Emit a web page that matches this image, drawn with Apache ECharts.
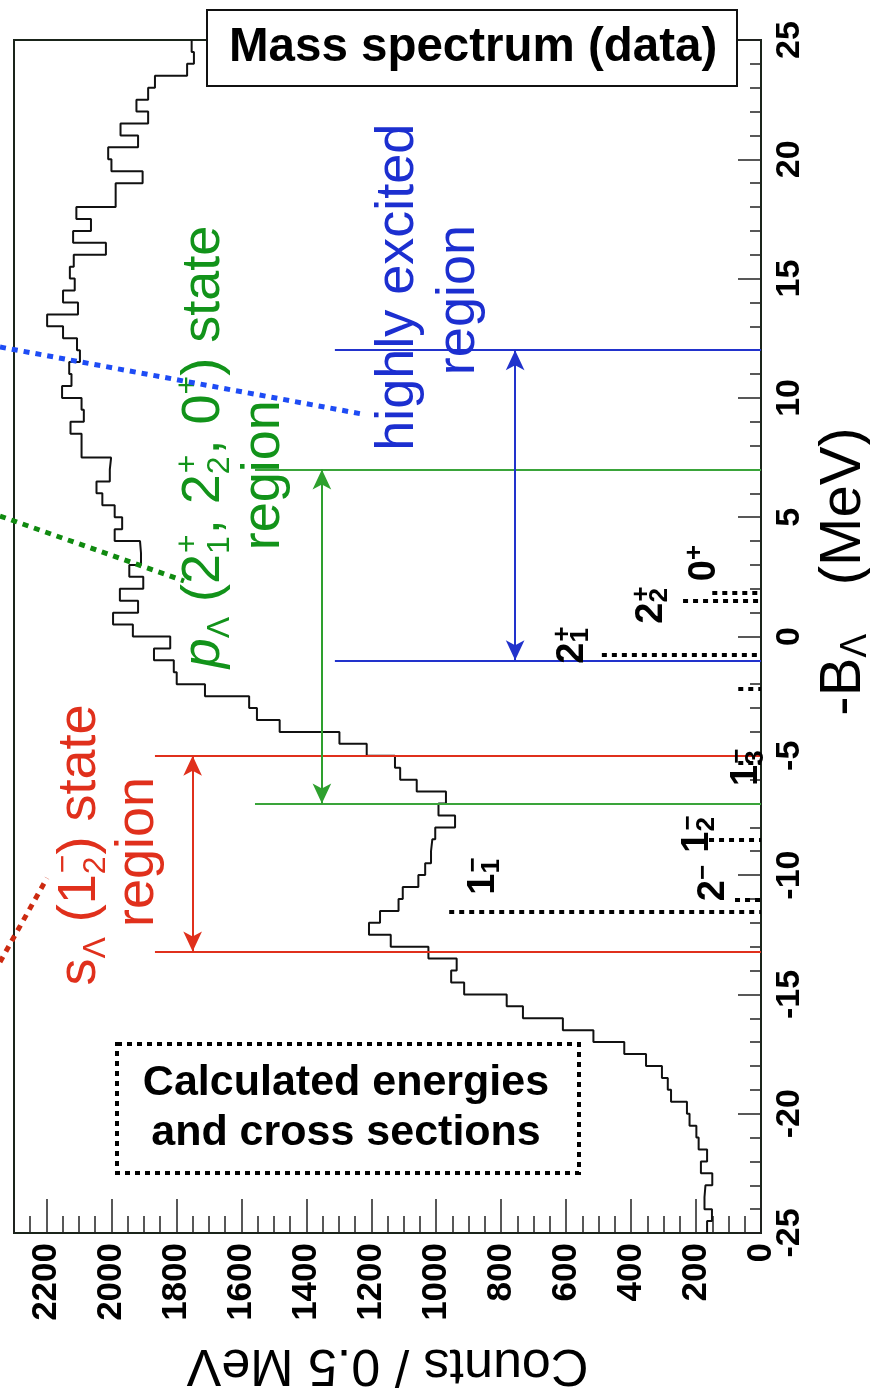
<!DOCTYPE html>
<html>
<head>
<meta charset="utf-8">
<script src="https://cdn.jsdelivr.net/npm/echarts@6/dist/echarts.min.js"></script>
<style>
html, body { margin: 0; padding: 0; background: #fff; }
#chart { width: 870px; height: 1394px; }
</style>
</head>
<body>
<div id="chart"></div>
<script>
// histogram: 0.5 MeV bins from -25 MeV upward
const binStart = -25;
const binWidth = 0.5;
const counts = [
    166, 151, 174, 171, 150, 185, 166, 192, 199, 220,
    228, 277, 287, 305, 354, 421, 516, 610, 733, 783,
    914, 954, 937, 1024, 1140, 1207, 1173, 1116, 1103, 1055,
    1034, 1016, 1012, 1003, 942, 993, 970, 1060, 1111, 1127,
    1214, 1298, 1482, 1552, 1576, 1712, 1799, 1808, 1869, 1819,
    1934, 1995, 1918, 1974, 1902, 1945, 1909, 1912, 1990, 1967,
    1990, 2028, 2046, 2005, 2001, 2092, 2092, 2126, 2085, 2092,
    2152, 2123, 2130, 2097, 2106, 2149, 2198, 2103, 2149, 2113,
    2128, 2116, 2017, 2118, 2063, 2108, 1987, 1987, 1904, 2000,
    2010, 1918, 1972, 1887, 1923, 1887, 1866, 1767, 1746, 1753,
];

// region borders (MeV)
const sRegion = [-13.2, -5];
const pRegion = [-7, 7];
const highRegion = [-1, 12];

// calculated levels: energy (MeV) and drawn strength (counts)
const levelNames = ["1_1-", "2-", "1_2-", "1_3-", "x", "2_1+", "2_2+", "0+"];
const levelEnergy = [-11.55, -11.05, -8.5, -5.3, -2.2, -0.75, 1.5, 1.85];
const levelStrength = [960, 80, 160, 70, 70, 490, 240, 150];

const FONT = "Liberation Sans, Arial, Helvetica, sans-serif";
const RED = "#e0301c";
const GREEN = "#12931a";
const BLUE = "#1c2fd0";

const stepPts = [];
counts.forEach((c, i) => {
    const lo = binStart + i * binWidth;
    stepPts.push([c, lo], [c, lo + binWidth]);
});

function hLine(e, from, to, style) {
    return [{ coord: [from, e], lineStyle: style }, { coord: [to, e] }];
}
function vArrow(c, e1, e2, color) {
    return [
        { coord: [c, e1], lineStyle: { color: color, width: 2, type: "solid" }, itemStyle: { color: color } },
        { coord: [c, e2] },
    ];
}

// rich styles for rotated labels
function tok(size, color, extra) {
    return Object.assign({ fontSize: size, color: color, fontFamily: FONT, align: "left" }, extra);
}
function regionRich(color) {
    return {
        t: tok(54, color, { lineHeight: 64 }),
        it: tok(54, color, { fontStyle: "italic", lineHeight: 64 }),
        sub: tok(32, color, { verticalAlign: "bottom", lineHeight: 30 }),
        subz: tok(32, color, { verticalAlign: "bottom", lineHeight: 30, width: 1 }),
        sup: tok(32, color, { verticalAlign: "top", lineHeight: 30 }),
    };
}
const levelRich = {
    b: tok(38, "#000", { fontWeight: "bold", lineHeight: 44 }),
    subz: tok(26, "#000", { fontWeight: "bold", verticalAlign: "bottom", lineHeight: 22, width: 1 }),
    sup: tok(26, "#000", { fontWeight: "bold", verticalAlign: "top", lineHeight: 22 }),
};

function textItem(c, e, text, rich) {
    return {
        value: [c, e],
        label: {
            show: true,
            position: "inside",
            rotate: 90,
            align: "center",
            verticalAlign: "middle",
            opacity: 1,
            formatter: text,
            rich: rich,
        },
    };
}

const chart = echarts.init(document.getElementById("chart"));

const option = {
    animation: false,
    backgroundColor: "#fff",
    title: {
        text: "Mass spectrum (data)",
        left: 207,
        top: 10,
        padding: [12, 20, 12, 22],
        borderColor: "#111",
        borderWidth: 2,
        backgroundColor: "#fff",
        textStyle: { fontSize: 47.5, fontWeight: "bold", color: "#000", fontFamily: FONT, lineHeight: 52 },
    },
    grid: {
        left: 14,
        right: 109,
        top: 40,
        bottom: 161,
        containLabel: false,
        outerBoundsMode: "none",
        show: true,
        borderColor: "#1a241a",
        borderWidth: 2,
    },
    xAxis: {
        type: "value",
        inverse: true,
        min: 0,
        max: 2300,
        interval: 200,
        position: "bottom",
        axisLine: { show: true, onZero: false, lineStyle: { color: "#1a241a", width: 2 } },
        axisTick: { show: true, inside: true, length: 34, lineStyle: { color: "#222", width: 1.5 } },
        minorTick: { show: true, splitNumber: 4, length: 17, lineStyle: { color: "#222", width: 1.5 } },
        splitLine: { show: false },
        axisLabel: {
            rotate: 90,
            margin: 10,
            fontSize: 35,
            fontWeight: "bold",
            color: "#000",
            fontFamily: FONT,
            showMaxLabel: false,
            formatter: (v) => (v % 200 === 0 ? String(v) : ""),
        },
        name: "Counts / 0.5 MeV",
        nameLocation: "middle",
        nameRotate: 180,
        nameGap: 105,
        nameTextStyle: { fontSize: 52, color: "#000", fontFamily: FONT },
    },
    yAxis: {
        type: "value",
        min: -25,
        max: 25,
        interval: 5,
        position: "right",
        axisLine: { show: true, onZero: false, lineStyle: { color: "#1a241a", width: 2 } },
        axisTick: { show: true, inside: true, length: 23, lineStyle: { color: "#222", width: 1.5 } },
        minorTick: { show: true, splitNumber: 5, length: 11, lineStyle: { color: "#222", width: 1.5 } },
        splitLine: { show: false },
        axisLabel: {
            rotate: 90,
            margin: 12,
            fontSize: 34,
            fontWeight: "bold",
            color: "#000",
            fontFamily: FONT,
        },
        name: "{m|-B}{s|Λ}{m|   (MeV)}",
        nameLocation: "middle",
        nameRotate: 90,
        nameGap: 48,
        nameTextStyle: {
            padding: [0, 0, 0, 130],
            rich: {
                m: tok(58, "#000", { lineHeight: 60 }),
                s: tok(36, "#000", { verticalAlign: "bottom", lineHeight: 36 }),
            },
        },
    },
    series: [
        {
            name: "data",
            type: "line",
            data: stepPts,
            showSymbol: false,
            symbol: "none",
            silent: true,
            lineStyle: { color: "#111", width: 2 },
            z: 3,
        },
        {
            type: "line",
            data: [],
            silent: true,
            markLine: {
                silent: true,
                symbol: ["none", "none"],
                label: { show: false },
                animation: false,
                data: [
                    hLine(sRegion[0], 1866, 0, { color: RED, width: 2, type: "solid" }),
                    hLine(sRegion[1], 1866, 0, { color: RED, width: 2, type: "solid" }),
                    hLine(pRegion[0], 1558, 0, { color: "#3aa43a", width: 2, type: "solid" }),
                    hLine(pRegion[1], 1558, 0, { color: "#3aa43a", width: 2, type: "solid" }),
                    hLine(highRegion[0], 1312, 0, { color: "#2233cc", width: 2, type: "solid" }),
                    hLine(highRegion[1], 1312, 0, { color: "#2233cc", width: 2, type: "solid" }),
                ],
            },
            z: 4,
        },
        {
            type: "line",
            data: [],
            silent: true,
            markLine: {
                silent: true,
                symbol: ["arrow", "arrow"],
                symbolSize: [14, 20],
                label: { show: false },
                animation: false,
                data: [
                    vArrow(1750, sRegion[0], sRegion[1], RED),
                    vArrow(1352, pRegion[0], pRegion[1], "#2ea02e"),
                    vArrow(757, highRegion[0], highRegion[1], "#2233cc"),
                ],
            },
            z: 4,
        },
        {
            // calculated levels
            type: "line",
            data: [],
            silent: true,
            markLine: {
                silent: true,
                symbol: ["none", "none"],
                label: { show: false },
                animation: false,
                lineStyle: { color: "#000", width: 4, type: [5, 5] },
                data: levelEnergy.map((e, i) => hLine(e, levelStrength[i], 0)),
            },
            z: 4,
        },
        {
            type: "scatter",
            symbolSize: 0,
            silent: true,
            itemStyle: { opacity: 1 },
            z: 5,
            data: [
                textItem(2097, -8.74, "{t|s}{sub|Λ}{t| (1}{subz|2}{sup|−}{t|) state}", regionRich(RED)),
                textItem(1918, -9.03, "{t|region}", regionRich(RED)),
                textItem(1715, 7.94, "{it|p}{sub|Λ}{t| (2}{subz|1}{sup|+}{t|, 2}{subz|2}{sup|+}{t|, 0}{sup|+}{t|) state}", regionRich(GREEN)),
                textItem(1530, 6.76, "{t|region}", regionRich(GREEN)),
                textItem(1117, 14.64, "{t|highly excited}", regionRich(BLUE)),
                textItem(929, 14.1, "{t|region}", regionRich(BLUE)),
                textItem(855, -10.04, "{b|1}{subz|1}{sup|−}", levelRich),
                textItem(147, -10.33, "{b|2}{sup|−}", levelRich),
                textItem(196, -8.28, "{b|1}{subz|2}{sup|−}", levelRich),
                textItem(45, -5.48, "{b|1}{subz|3}{sup|−}", levelRich),
                textItem(581, -0.36, "{b|2}{subz|1}{sup|+}", levelRich),
                textItem(338, 1.32, "{b|2}{subz|2}{sup|+}", levelRich),
                textItem(175, 3.08, "{b|0}{sup|+}", levelRich),
            ],
        },
    ],
    graphic: [
        {
            type: "rect",
            left: 115,
            top: 1042,
            shape: { width: 462, height: 129 },
            style: { fill: "#fff", stroke: "#000", lineWidth: 4, lineDash: [5, 5] },
            z: 10,
        },
        {
            type: "text",
            x: 346,
            y: 1108,
            style: {
                text: "Calculated energies\nand cross sections",
                font: "bold 43px " + FONT,
                fill: "#000",
                align: "center",
                verticalAlign: "middle",
                lineHeight: 50,
            },
            z: 11,
        },
        {
            type: "line",
            shape: { x1: 0, y1: 347, x2: 362, y2: 414 },
            style: { stroke: "#1e4cf5", lineWidth: 5, lineDash: [6, 6] },
            z: 12,
        },
        {
            type: "line",
            shape: { x1: 0, y1: 516, x2: 184, y2: 581 },
            style: { stroke: "#108a10", lineWidth: 5, lineDash: [6, 6] },
            z: 12,
        },
        {
            type: "line",
            shape: { x1: 0, y1: 962, x2: 47, y2: 878 },
            style: { stroke: "#cc2a10", lineWidth: 5, lineDash: [6, 6] },
            z: 12,
        },
    ],
};

chart.setOption(option);
</script>
</body>
</html>
